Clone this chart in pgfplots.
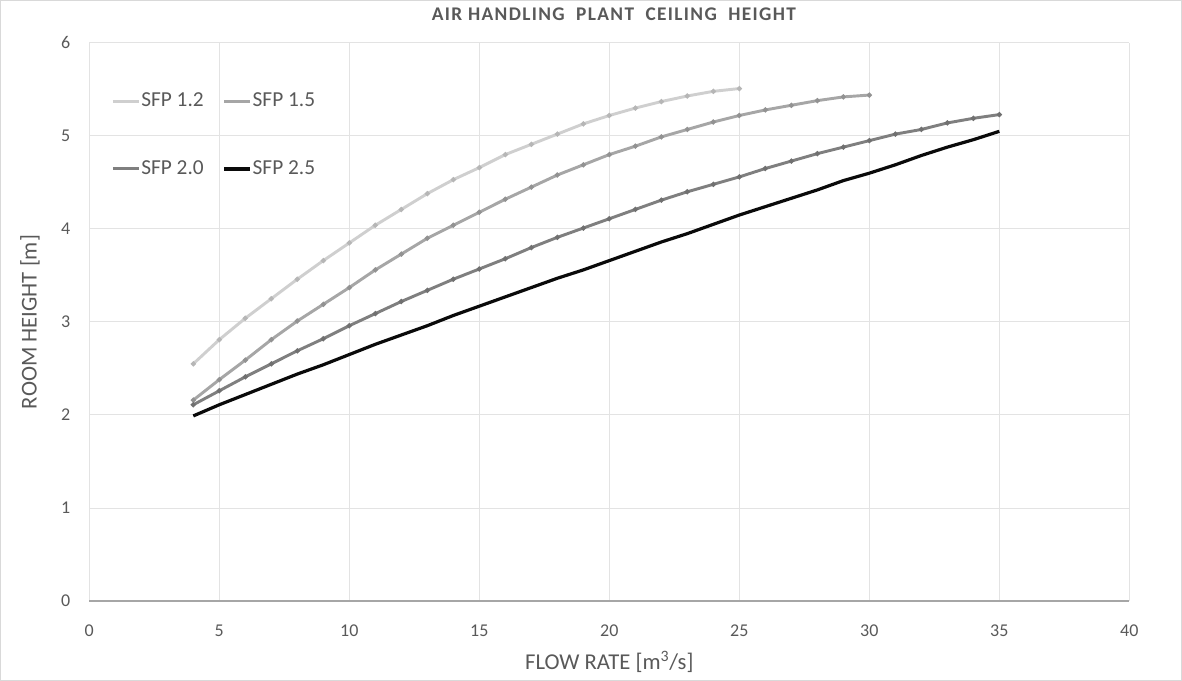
\documentclass[border=0pt]{standalone}
\usepackage{pgfplots}
\pgfplotsset{compat=1.18}
\usepackage{pgfplotstable}
\usepackage{fontspec}
\setmainfont{Carlito}
\newfontfamily\titlefont[LetterSpace=7]{Carlito}
\definecolor{labelgray}{HTML}{595959}
\definecolor{gridgray}{HTML}{E3E3E3}
\definecolor{axisgray}{HTML}{A6A6A6}
\definecolor{bordergray}{HTML}{D9D9D9}
\definecolor{cA}{HTML}{CFCFCF}
\definecolor{cB}{HTML}{A6A6A6}
\definecolor{cC}{HTML}{7F7F7F}
\definecolor{cD}{HTML}{0A0A0A}

\pgfplotstableread{
x y
4 2.55
5 2.81
6 3.04
7 3.25
8 3.46
9 3.66
10 3.85
11 4.04
12 4.21
13 4.38
14 4.53
15 4.66
16 4.80
17 4.91
18 5.02
19 5.13
20 5.22
21 5.30
22 5.37
23 5.43
24 5.48
25 5.51
}\sfpA

\pgfplotstableread{
x y
4 2.16
5 2.38
6 2.59
7 2.81
8 3.01
9 3.19
10 3.37
11 3.56
12 3.73
13 3.90
14 4.04
15 4.18
16 4.32
17 4.45
18 4.58
19 4.69
20 4.80
21 4.89
22 4.99
23 5.07
24 5.15
25 5.22
26 5.28
27 5.33
28 5.38
29 5.42
30 5.44
}\sfpB

\pgfplotstableread{
x y
4 2.11
5 2.26
6 2.41
7 2.55
8 2.69
9 2.82
10 2.96
11 3.09
12 3.22
13 3.34
14 3.46
15 3.57
16 3.68
17 3.80
18 3.91
19 4.01
20 4.11
21 4.21
22 4.31
23 4.40
24 4.48
25 4.56
26 4.65
27 4.73
28 4.81
29 4.88
30 4.95
31 5.02
32 5.07
33 5.14
34 5.19
35 5.23
}\sfpC

\pgfplotstableread{
x y
4 1.99
5 2.11
6 2.22
7 2.33
8 2.44
9 2.54
10 2.65
11 2.76
12 2.86
13 2.96
14 3.07
15 3.17
16 3.27
17 3.37
18 3.47
19 3.56
20 3.66
21 3.76
22 3.86
23 3.95
24 4.05
25 4.15
26 4.24
27 4.33
28 4.42
29 4.52
30 4.60
31 4.69
32 4.79
33 4.88
34 4.96
35 5.05
}\sfpD

\begin{document}
\begin{tikzpicture}
\begin{axis}[
  scale only axis,
  width=780pt, height=418.5pt,
  xmin=0, xmax=40, ymin=0, ymax=6,
  xtick={0,5,...,40}, ytick={0,1,...,6},
  grid=major,
  major grid style={color=gridgray, line width=0.75pt},
  axis line style={draw=none},
  major tick length=0pt,
  clip=false,
  /pgf/number format/assume math mode=true,
  tick label style={font=\fontsize{13.5}{16}\selectfont, color=labelgray, inner sep=0pt},
  xticklabel style={yshift=-18pt},
  yticklabel style={xshift=-14pt},
  xlabel={FLOW RATE [m\textsuperscript{3}/s]},
  ylabel={ROOM HEIGHT [m]},
  xlabel style={at={(rel axis cs:0.5,-0.1093)}, anchor=center, font=\fontsize{17}{20}\selectfont, color=labelgray},
  ylabel style={at={(rel axis cs:-0.0570,0.5)}, anchor=center, font=\fontsize{17}{20}\selectfont, color=labelgray},
  title={\titlefont\bfseries AIR HANDLING\ \ PLANT\ \ CEILING\ \ HEIGHT},
  title style={at={(rel axis cs:0.5044,1.0376)}, anchor=center, font=\fontsize{14.5}{17}\selectfont, color=labelgray},
  legend columns=2,
  legend cell align=left,
  legend image code/.code={\draw[#1, mark=none] (0pt,0pt) -- (19.3pt,0pt);},
  legend style={at={(rel axis cs:0.0209,0.8351)}, anchor=west, draw=none, fill=none,
    inner sep=0pt, row sep=37pt,
    font=\fontsize{16}{19}\selectfont, text=labelgray,
    nodes={inner sep=1pt},
    /tikz/every even column/.append style={column sep=13pt}},
  extra y ticks={0}, extra y tick labels={},
  extra y tick style={grid=major, major grid style={color=axisgray, line width=1pt}},
]
\addplot[color=cA, line width=2.2pt, mark=*, mark size=0.6pt, mark options={color=cA!88!black}] table {\sfpA};
\addlegendentry{SFP 1.2}
\addplot[color=cB, line width=2.2pt, mark=*, mark size=0.6pt, mark options={color=cB!88!black}] table {\sfpB};
\addlegendentry{SFP 1.5}
\addplot[color=cC, line width=2.2pt, mark=*, mark size=0.6pt, mark options={color=cC!88!black}] table {\sfpC};
\addlegendentry{SFP 2.0}
\addplot[color=cD, line width=2.4pt] table {\sfpD};
\addlegendentry{SFP 2.5}
\draw[color=bordergray, line width=0.75pt] (rel axis cs:-0.08538,-0.14241) rectangle (rel axis cs:1.05013,1.07611);
\end{axis}
\end{tikzpicture}
\end{document}
